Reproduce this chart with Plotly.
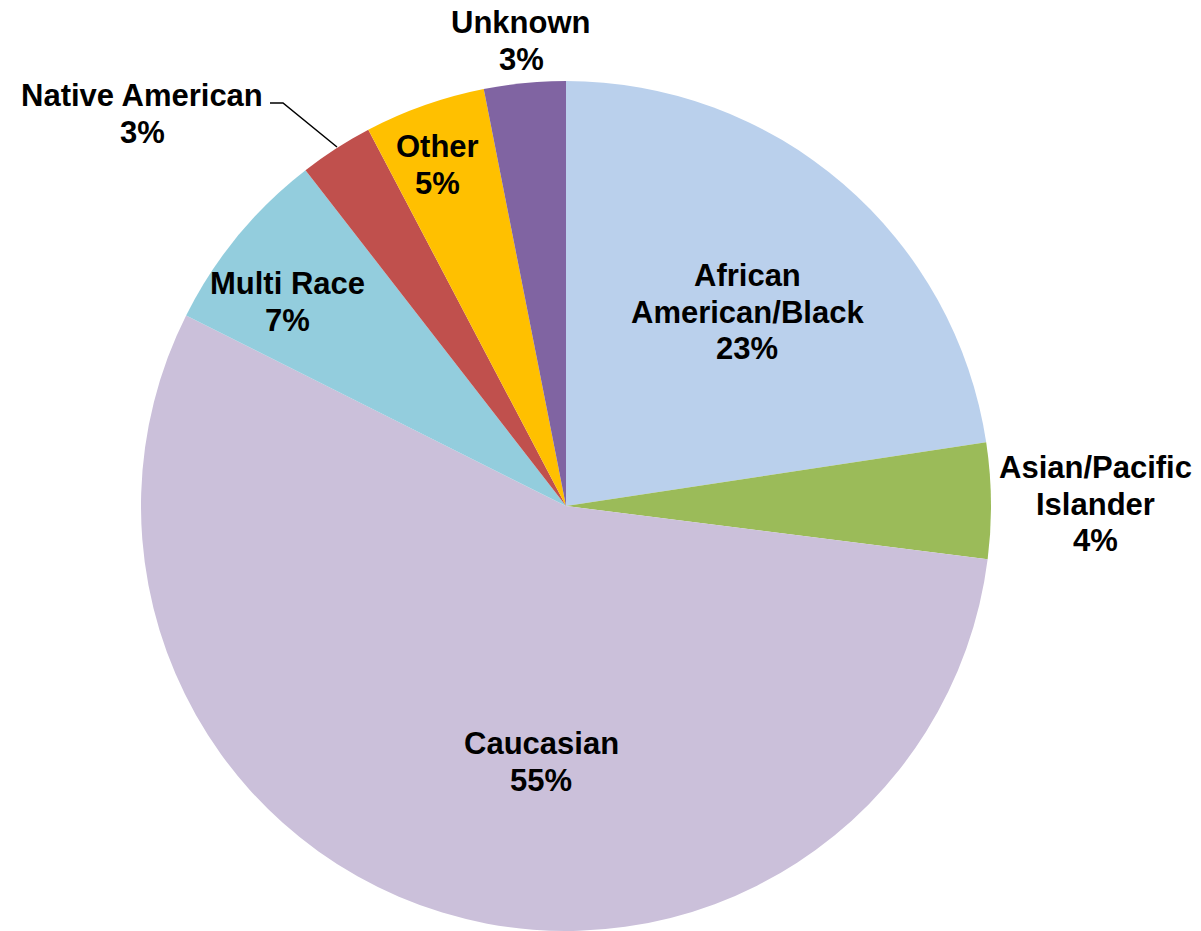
import plotly.graph_objects as go

# Share of each group, in percent
categories = ["African American/Black", "Asian/Pacific Islander", "Caucasian",
              "Multi Race", "Native American", "Other", "Unknown"]
label_lines = [["African", "American/Black"], ["Asian/Pacific", "Islander"], ["Caucasian"],
               ["Multi Race"], ["Native American"], ["Other"], ["Unknown"]]
shares = [22.6, 4.4, 55.4, 7.1, 2.8, 4.6, 3.1]
colors = ["#BAD0EC", "#9BBB59", "#CBC0DA", "#93CDDD", "#C0504D", "#FFC000", "#8064A2"]

W, H = 1201, 931
CX, CY, R = 566, 506, 425
LINE_PITCH = 36.5
FONT = dict(family="Liberation Sans, Arial, sans-serif", size=31, color="black")

fig = go.Figure(go.Pie(
    labels=categories,
    values=shares,
    sort=False,
    direction="clockwise",
    rotation=0,
    marker=dict(colors=colors, line=dict(width=0)),
    textinfo="none",
    hoverinfo="label+percent",
    showlegend=False,
    domain=dict(x=[(CX - R) / W, (CX + R) / W], y=[0, 2 * R / H]),
))

# label block centres in pixels (x, y from top)
label_pos = [(747, 312), (1095, 504), (541, 762), (287, 302),
             (142, 114), (437, 165), (521, 41)]

total = sum(shares)
for lines, v, (px, py) in zip(label_lines, shares, label_pos):
    pct = round(v / total * 100)
    rows = lines + [f"{pct}%"]
    n = len(rows)
    for i, row in enumerate(rows):
        ly = py + (i - (n - 1) / 2) * LINE_PITCH
        fig.add_annotation(
            x=px / W, y=1 - ly / H, xref="paper", yref="paper",
            text=f"<b>{row}</b>",
            showarrow=False, xanchor="center", yanchor="middle",
            font=FONT,
        )

# leader line for Native American
pts = [(270, 103), (283, 103), (337, 147)]
path = "M " + " L ".join(f"{x / W} {1 - y / H}" for x, y in pts)
fig.add_shape(type="path", path=path, xref="paper", yref="paper",
              line=dict(color="black", width=1.5))

fig.update_layout(
    width=W, height=H,
    margin=dict(l=0, r=0, t=0, b=0),
    paper_bgcolor="white", plot_bgcolor="white",
)

fig.write_html("out.html")
